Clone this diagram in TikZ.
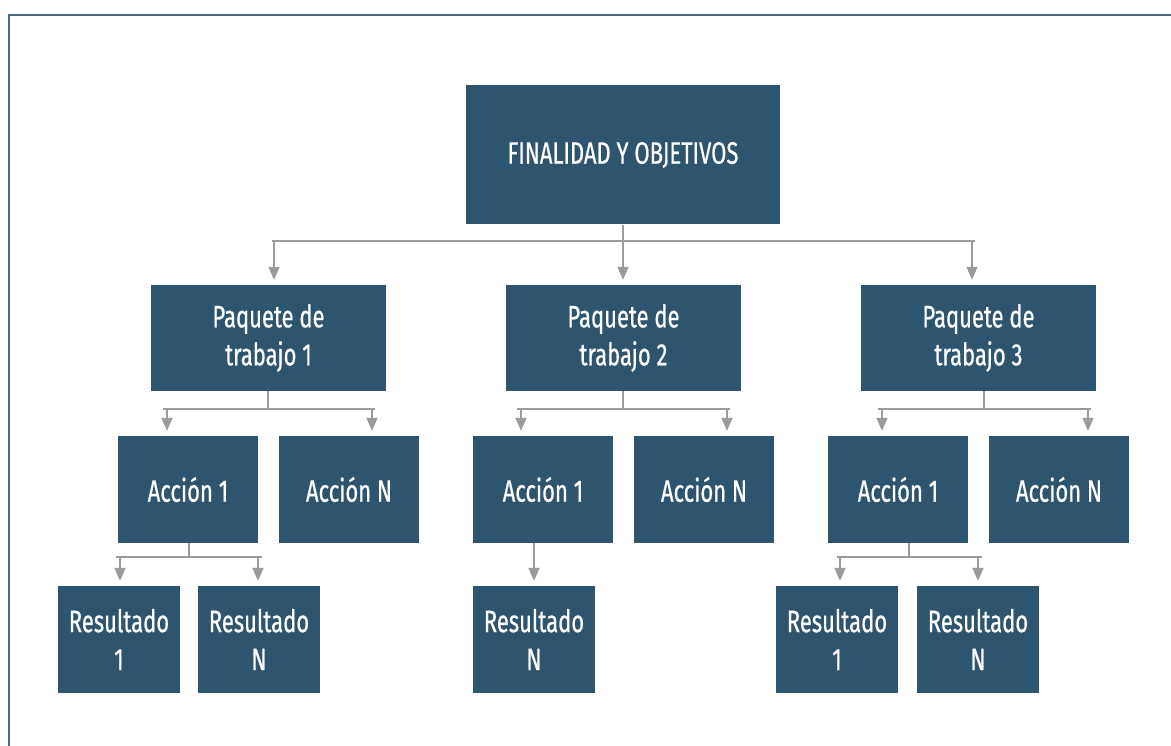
\documentclass[tikz,border=0pt]{standalone}
\usepackage{fontspec}
\setmainfont{Fira Sans}[FakeStretch=0.71,FakeBold=0.6]
\usetikzlibrary{arrows.meta,calc}
\definecolor{boxblue}{HTML}{2D5570}
\definecolor{conn}{HTML}{9B9B9B}
\definecolor{framecol}{HTML}{4D6479}
\begin{document}
\begin{tikzpicture}[x=1pt,y=-1pt,
  box/.style={fill=boxblue, text=white, align=center, inner sep=0pt,
    font=\fontsize{31}{38}\selectfont},
  topbox/.style={box, minimum width=314pt, minimum height=139pt},
  pbox/.style={box, minimum width=235pt, minimum height=106pt},
  abox/.style={box, minimum width=140pt, minimum height=107pt},
  rbox/.style={box, minimum width=122pt, minimum height=107pt},
  wire/.style={draw=conn, line width=1.6pt},
  arr/.style={wire, -{Triangle[width=11pt,length=13pt]}, shorten >=5pt}]
\useasboundingbox (0,0) rectangle (1171,746);
\fill[white] (0,0) rectangle (1171,746);
\draw[framecol, line width=1.6pt] (1171,15) -- (9,15) -- (9,746);

% nodes
\node[topbox] (top) at (623,155) {FINALIDAD Y OBJETIVOS};
\node[pbox] (p1) at (268.5,338) {Paquete de\\trabajo 1};
\node[pbox] (p2) at (623.5,338) {Paquete de\\trabajo 2};
\node[pbox] (p3) at (978.5,338) {Paquete de\\trabajo 3};
\node[abox] (a11) at (188,489.5) {Acción 1};
\node[abox] (a1n) at (349,489.5) {Acción N};
\node[abox] (a21) at (543,489.5) {Acción 1};
\node[abox] (a2n) at (704,489.5) {Acción N};
\node[abox] (a31) at (898,489.5) {Acción 1};
\node[abox] (a3n) at (1059,489.5) {Acción N};
\node[rbox] (r11) at (119,639.5) {Resultado\\1};
\node[rbox] (r1n) at (259,639.5) {Resultado\\N};
\node[rbox] (r2n) at (534,639.5) {Resultado\\N};
\node[rbox] (r31) at (837,639.5) {Resultado\\1};
\node[rbox] (r3n) at (978,639.5) {Resultado\\N};

% top level connectors
\coordinate (tj) at (623,241);
\coordinate (tl) at (272,241);
\coordinate (tr) at (975,241);
\coordinate (t1) at (274,241);
\coordinate (t3) at (972,241);
\draw[wire] (top.south) -- (tj);
\draw[wire] (tl) -- (tr);
\draw[arr] (t1) -- (t1 |- p1.north);
\draw[arr] (tj) -- (tj |- p2.north);
\draw[arr] (t3) -- (t3 |- p3.north);

% package 1
\coordinate (p1j) at (268,409);
\coordinate (p1l) at (163,409);
\coordinate (p1r) at (375,409);
\coordinate (p1a) at (167,409);
\coordinate (p1b) at (372,409);
\draw[wire] (p1.south -| p1j) -- (p1j);
\draw[wire] (p1l) -- (p1r);
\draw[arr] (p1a) -- (p1a |- a11.north);
\draw[arr] (p1b) -- (p1b |- a1n.north);

% package 2
\coordinate (p2j) at (623,409);
\coordinate (p2l) at (517,409);
\coordinate (p2r) at (730,409);
\coordinate (p2a) at (521,409);
\coordinate (p2b) at (727,409);
\draw[wire] (p2.south -| p2j) -- (p2j);
\draw[wire] (p2l) -- (p2r);
\draw[arr] (p2a) -- (p2a |- a21.north);
\draw[arr] (p2b) -- (p2b |- a2n.north);

% package 3
\coordinate (p3j) at (984,409);
\coordinate (p3l) at (878,409);
\coordinate (p3r) at (1091,409);
\coordinate (p3a) at (882,409);
\coordinate (p3b) at (1088,409);
\draw[wire] (p3.south -| p3j) -- (p3j);
\draw[wire] (p3l) -- (p3r);
\draw[arr] (p3a) -- (p3a |- a31.north);
\draw[arr] (p3b) -- (p3b |- a3n.north);

% action 1.1 results
\coordinate (a1j) at (189,557);
\coordinate (a1l) at (116,557);
\coordinate (a1r) at (262,557);
\coordinate (a1a) at (120,557);
\coordinate (a1b) at (258,557);
\draw[wire] (a11.south -| a1j) -- (a1j);
\draw[wire] (a1l) -- (a1r);
\draw[arr] (a1a) -- (a1a |- r11.north);
\draw[arr] (a1b) -- (a1b |- r1n.north);

% action 2.1 result
\coordinate (a2x) at (534,557);
\draw[arr] (a21.south -| a2x) -- (r2n.north);

% action 3.1 results
\coordinate (a3j) at (909,557);
\coordinate (a3l) at (837,557);
\coordinate (a3r) at (982,557);
\coordinate (a3a) at (840,557);
\coordinate (a3b) at (978,557);
\draw[wire] (a31.south -| a3j) -- (a3j);
\draw[wire] (a3l) -- (a3r);
\draw[arr] (a3a) -- (a3a |- r31.north);
\draw[arr] (a3b) -- (a3b |- r3n.north);
\end{tikzpicture}
\end{document}
